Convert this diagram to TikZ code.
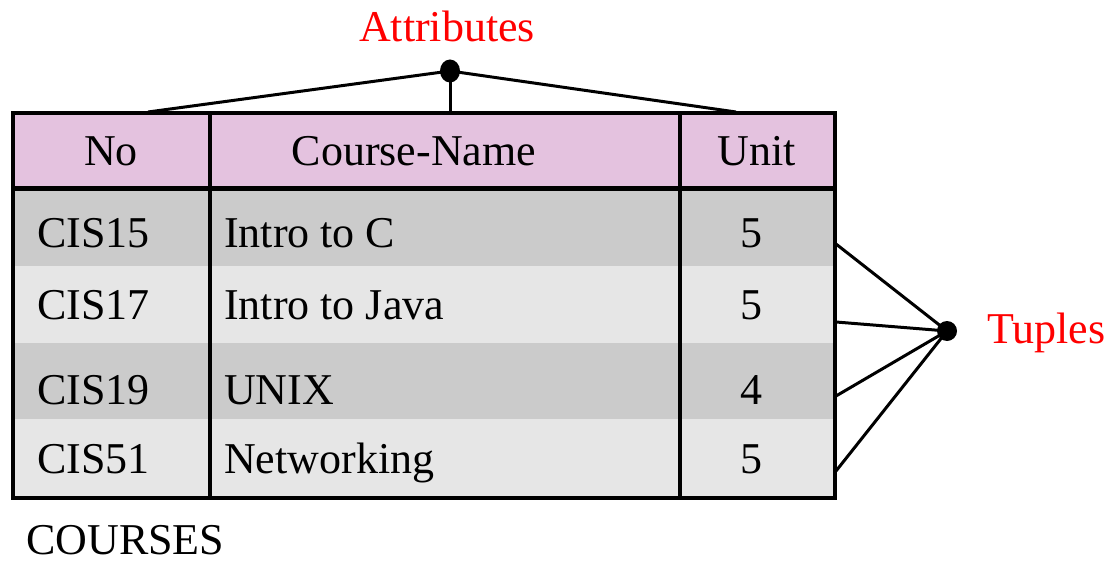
\documentclass[tikz,border=0pt]{standalone}
\usepackage{fontspec}
\usetikzlibrary{shapes.geometric}
\setmainfont{Liberation Serif}
\definecolor{hdrpink}{RGB}{228,194,223}
\definecolor{rowdark}{RGB}{203,203,203}
\definecolor{rowlight}{RGB}{230,230,230}
\definecolor{lblred}{RGB}{255,0,0}
\begin{document}
\begin{tikzpicture}[x=1pt,y=-1pt,
  txt/.style={font=\fontsize{44}{52}\selectfont, inner sep=0pt, anchor=base},
  txtl/.style={txt, anchor=base west},
  lbl/.style={txt, text=lblred},
  conn/.style={line width=3pt},
  dotnode/.style={circle, fill=black, inner sep=0pt, minimum size=20pt}]
\useasboundingbox (0,0) rectangle (1115,564);
% row fills
\fill[hdrpink] (13,113) rectangle (835,188);
\fill[rowdark] (13,188) rectangle (835,266);
\fill[rowlight] (13,266) rectangle (835,343);
\fill[rowdark] (13,343) rectangle (835,419);
\fill[rowlight] (13,419) rectangle (835,498);
% grid
\draw[line width=3.2pt] (210,113) -- (210,498);
\draw[line width=3.2pt] (680,113) -- (680,498);
\draw[line width=5pt] (13,188) -- (835,188);
\draw[line width=4.5pt] (13,113) rectangle (835,498);
% header
\node[txt] (hno) at (111,165) {No};
\node[txt] (hcn) at (414,165) {Course-Name};
\node[txt] (hu) at (757,165) {Unit};
% rows
\node[txtl] (r1a) at (37,247) {CIS15};
\node[txtl] (r1b) at (224,247) {Intro to C};
\node[txt] (r1c) at (751,247) {5};
\node[txtl] (r2a) at (37,319) {CIS17};
\node[txtl] (r2b) at (224,319) {Intro to Java};
\node[txt] (r2c) at (751,319) {5};
\node[txtl] (r3a) at (37,404) {CIS19};
\node[txtl] (r3b) at (224,404) {UNIX};
\node[txt] (r3c) at (751,404) {4};
\node[txtl] (r4a) at (37,473) {CIS51};
\node[txtl] (r4b) at (224,473) {Networking};
\node[txt] (r4c) at (751,473) {5};
% caption
\node[txtl] (cap) at (26,554) {COURSES};
% attributes
\node[lbl] (attr) at (447,42) {Attributes};
\node[ellipse, fill=black, inner sep=0pt, minimum width=20pt, minimum height=23pt] (ad) at (450,71) {};
\coordinate (a1) at (148,112);
\coordinate (a2) at (450,112);
\coordinate (a3) at (736,112);
\draw[conn] (ad.center) -- (a1);
\draw[conn] (ad.center) -- (a2);
\draw[conn] (ad.center) -- (a3);
% tuples
\node[lbl, anchor=base west] (tup) at (987,343) {Tuples};
\node[dotnode] (td) at (947,331) {};
\coordinate (t1) at (836,244);
\coordinate (t2) at (836,322);
\coordinate (t3) at (836,396);
\coordinate (t4) at (836,471);
\draw[conn] (td.center) -- (t1);
\draw[conn] (td.center) -- (t2);
\draw[conn] (td.center) -- (t3);
\draw[conn] (td.center) -- (t4);
\end{tikzpicture}
\end{document}
